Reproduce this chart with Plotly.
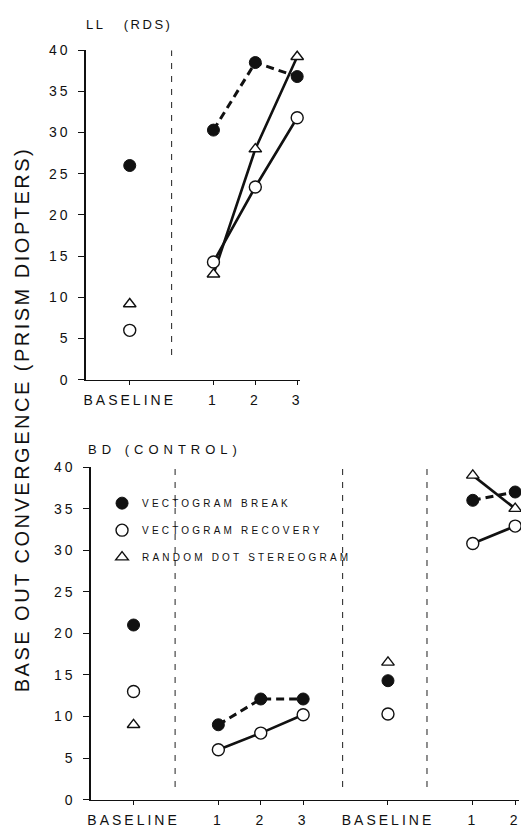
import plotly.graph_objects as go

# ---------------- data ----------------
# LL (RDS) panel
ll_labels = ["BASELINE", "1", "2", "3"]
ll_base_break = [26.0]
ll_base_recovery = [6.0]
ll_base_rds = [9.2]
ll_sess_break = [30.3, 38.5, 36.8]
ll_sess_recovery = [14.3, 23.4, 31.8]
ll_sess_rds = [12.8, 28.0, 39.2]

# BD (CONTROL) panel
bd_labels = ["BASELINE", "1", "2", "3", "BASELINE", "1", "2"]
bd_base1_break = [21.0]
bd_base1_recovery = [13.0]
bd_base1_rds = [9.0]
bd_sess1_break = [9.0, 12.1, 12.1]
bd_sess1_recovery = [6.0, 8.0, 10.2]
bd_base2_break = [14.3]
bd_base2_recovery = [10.3]
bd_base2_rds = [16.5]
bd_sess2_break = [36.0, 37.0]
bd_sess2_recovery = [30.8, 32.9]
bd_sess2_rds = [39.0, 35.0]

series_names = ["VECTOGRAM BREAK", "VECTOGRAM RECOVERY", "RANDOM DOT STEREOGRAM"]
y_ticks = [0, 5, 10, 15, 20, 25, 30, 35, 40]

# category slots along the x axis (baseline, separator, sessions ...)
ll_pos = [1, 3, 4, 5]
ll_sep = [2]
bd_pos = [1, 3, 4, 5, 7, 9, 10]
bd_sep = [1.98, 5.93, 7.92]

W, H = 521, 838
FONT = "Liberation Sans"


def sp(text, ls):
    return f'<span style="letter-spacing:{ls}px">{text}</span>'


def join(groups):
    xs, ys = [], []
    for i, (gx, gy) in enumerate(groups):
        if i:
            xs.append(None)
            ys.append(None)
        xs += list(gx)
        ys += list(gy)
    return xs, ys


styles = {
    0: dict(symbol="circle", size=12, color="#111111", line=dict(color="#111111", width=1)),
    1: dict(symbol="circle", size=12, color="white", line=dict(color="#111111", width=1.4)),
    2: dict(symbol="triangle-up", size=11, color="white", line=dict(color="#111111", width=1.4)),
}
line_styles = {
    0: dict(color="#111111", width=3, dash="8px,5px"),
    1: dict(color="#111111", width=2.6),
    2: dict(color="#111111", width=2.6),
}

ll_series = [
    [(ll_pos[:1], ll_base_break), (ll_pos[1:], ll_sess_break)],
    [(ll_pos[:1], ll_base_recovery), (ll_pos[1:], ll_sess_recovery)],
    [(ll_pos[:1], ll_base_rds), (ll_pos[1:], ll_sess_rds)],
]
bd_series = [
    [(bd_pos[:1], bd_base1_break), (bd_pos[1:4], bd_sess1_break),
     (bd_pos[4:5], bd_base2_break), (bd_pos[5:], bd_sess2_break)],
    [(bd_pos[:1], bd_base1_recovery), (bd_pos[1:4], bd_sess1_recovery),
     (bd_pos[4:5], bd_base2_recovery), (bd_pos[5:], bd_sess2_recovery)],
    [(bd_pos[:1], bd_base1_rds), (bd_pos[4:5], bd_base2_rds), (bd_pos[5:], bd_sess2_rds)],
]

fig = go.Figure()

for panel, (xa, ya) in [(ll_series, ("x", "y")), (bd_series, ("x2", "y2"))]:
    for i, groups in enumerate(panel):
        xs, ys = join(groups)
        fig.add_trace(go.Scatter(x=xs, y=ys, mode="lines", line=line_styles[i],
                                 xaxis=xa, yaxis=ya, showlegend=False,
                                 connectgaps=False, hoverinfo="skip"))
    for i, groups in enumerate(panel):
        xs, ys = join(groups)
        fig.add_trace(go.Scatter(x=xs, y=ys, mode="markers", marker=styles[i],
                                 xaxis=xa, yaxis=ya, showlegend=False,
                                 cliponaxis=False))

# legend entries
for i, name in enumerate(series_names):
    fig.add_trace(go.Scatter(x=[None], y=[None], mode="markers", marker=styles[i],
                             name=sp(name, 3.2), legendgroup=f"g{i}",
                             xaxis="x2", yaxis="y2", showlegend=True))

axis_common = dict(showline=True, linecolor="#111111", showgrid=False, zeroline=False,
                   ticks="outside", tickcolor="#111111", fixedrange=True)

fig.update_layout(
    width=W, height=H,
    margin=dict(l=0, r=0, t=0, b=0),
    paper_bgcolor="white", plot_bgcolor="white",
    font=dict(family=FONT, color="#111111"),
    xaxis=dict(domain=[84 / W, 300 / W], range=[-0.04, 5.07], anchor="y",
               tickvals=ll_pos, ticktext=[sp(t, 3) for t in ll_labels],
               ticklen=4, tickwidth=1, linewidth=1.3, ticklabelstandoff=3,
               tickfont=dict(size=14, family=FONT), **axis_common),
    yaxis=dict(domain=[1 - 379 / H, 1 - 43 / H], range=[0, 40], anchor="x",
               tickvals=y_ticks, ticktext=[sp(str(v), 3) for v in y_ticks],
               ticklen=6, tickwidth=1.3, linewidth=1.6, ticklabelstandoff=5,
               tickfont=dict(size=14, family=FONT), **axis_common),
    xaxis2=dict(domain=[89 / W, 1.0], range=[0, 10.09], anchor="y2",
                tickvals=bd_pos, ticktext=[sp(t, 3) for t in bd_labels],
                ticklen=4, tickwidth=1, linewidth=1.3, ticklabelstandoff=3,
                tickfont=dict(size=14, family=FONT), **axis_common),
    yaxis2=dict(domain=[1 - 807 / H, 1 - 468 / H], range=[0, 40], anchor="x2",
                tickvals=y_ticks, ticktext=[sp(str(v), 3) for v in y_ticks],
                ticklen=6, tickwidth=1.3, linewidth=1.6, ticklabelstandoff=5,
                tickfont=dict(size=14, family=FONT), **axis_common),
    legend=dict(x=100 / W, y=1 - 490 / H, xanchor="left", yanchor="top",
                bgcolor="rgba(0,0,0,0)", font=dict(size=10, family=FONT),
                traceorder="grouped", tracegroupgap=8),
    showlegend=True,
)

shapes = []
for s in ll_sep:
    shapes.append(dict(type="line", xref="x", yref="y", x0=s, x1=s, y0=3, y1=40,
                       line=dict(color="#333333", width=1.1, dash="6px,7px")))
for s in bd_sep:
    shapes.append(dict(type="line", xref="x2", yref="y2", x0=s, x1=s, y0=1.5, y1=40,
                       line=dict(color="#333333", width=1.1, dash="6px,7px")))
fig.update_layout(shapes=shapes)

annotations = [
    dict(text=sp("BASE OUT CONVERGENCE (PRISM DIOPTERS)", 2.5), x=20 / W, y=1 - 419.5 / H,
         xref="paper", yref="paper", showarrow=False, textangle=-90,
         xanchor="center", yanchor="middle", font=dict(size=20, family=FONT)),
    dict(text=sp("LL\u00a0\u00a0\u00a0(RDS)", 2.5), x=82 / W, y=1 - 17 / H,
         xref="paper", yref="paper", showarrow=False, xanchor="left", yanchor="middle",
         font=dict(size=13, family=FONT)),
    dict(text=sp("BD\u00a0(CONTROL)", 5), x=84 / W, y=1 - 450 / H,
         xref="paper", yref="paper", showarrow=False, xanchor="left", yanchor="middle",
         font=dict(size=13, family=FONT)),
]
fig.update_layout(annotations=annotations)

fig.write_html("out.html")
